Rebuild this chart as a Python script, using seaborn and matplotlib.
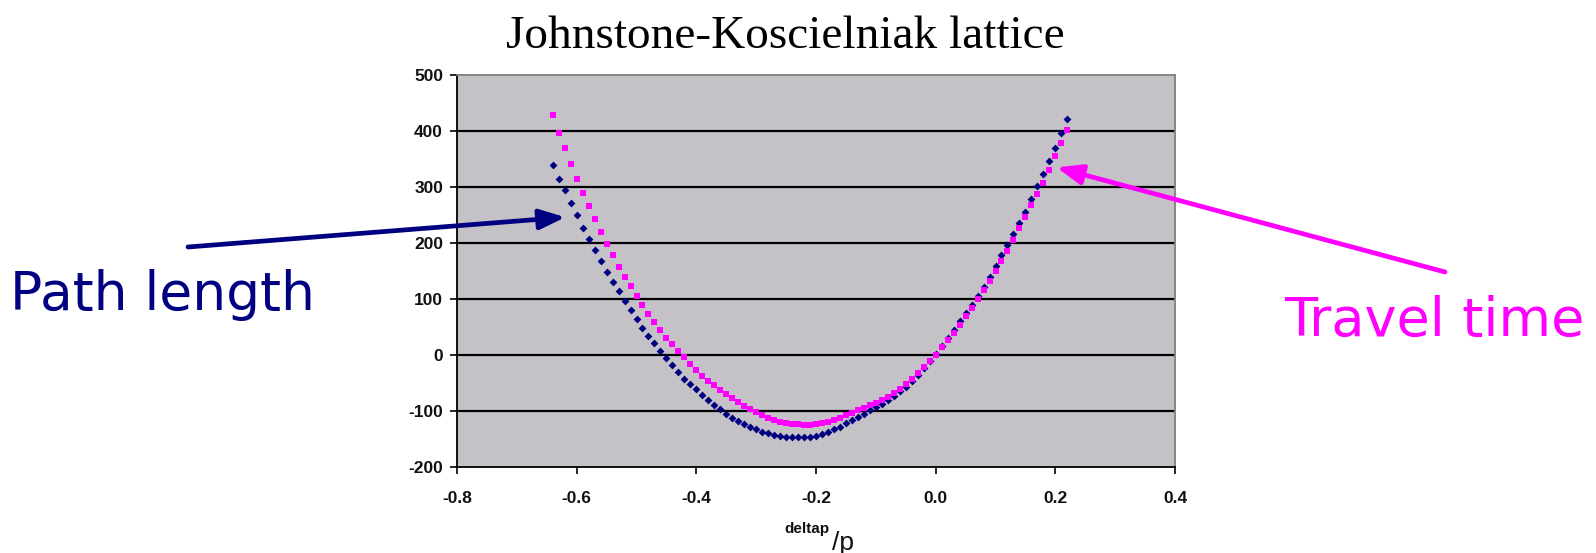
import numpy as np
import pandas as pd
import matplotlib
matplotlib.use("Agg")
import matplotlib.pyplot as plt
import seaborn as sns

# Momentum deviation grid (deltap/p) shared by both series
deltap = [round(-0.64 + 0.01 * i, 2) for i in range(87)]

# Path length deviation
path_length = [
    339, 315, 294, 271, 250, 227, 207, 187, 168, 149,
    131, 114, 96, 80, 64, 49, 34, 21, 7, -6,
    -18, -30, -42, -52, -61, -71, -80, -89, -97, -105,
    -112, -118, -124, -128, -133, -137, -140, -143, -145, -146,
    -147, -147, -147, -146, -144, -141, -137, -133, -128, -122,
    -116, -111, -105, -99, -93, -87, -80, -73, -65, -57,
    -47, -36, -23, -10, 2, 16, 30, 45, 60, 75,
    90, 105, 122, 140, 159, 178, 197, 216, 235, 256,
    278, 301, 323, 346, 370, 396, 421,
]

# Travel time deviation
travel_time = [
    428, 397, 370, 341, 315, 289, 266, 242, 219, 199,
    179, 158, 140, 123, 105, 89, 73, 59, 45, 31,
    19, 8, -4, -16, -27, -37, -46, -54, -62, -70,
    -77, -84, -91, -97, -102, -108, -112, -116, -119, -121,
    -123, -124, -125, -125, -124, -122, -119, -116, -112, -108,
    -103, -98, -94, -90, -86, -81, -75, -68, -60, -51,
    -42, -32, -22, -11, 0, 14, 27, 40, 54, 69,
    84, 100, 116, 132, 150, 168, 186, 205, 226, 246,
    267, 287, 308, 331, 355, 378, 401,
]

x_ticks = [-0.8, -0.6, -0.4, -0.2, 0.0, 0.2, 0.4]
y_ticks = [-200, -100, 0, 100, 200, 300, 400, 500]

NAVY = "#000080"
MAGENTA = "#FF00FF"

sns.set_theme(style="white")
plt.rcParams["axes.unicode_minus"] = False
plt.rcParams["font.family"] = ["DejaVu Sans"]

W, H = 1596, 553
fig = plt.figure(figsize=(W / 100, H / 100), dpi=100)
fig.patch.set_facecolor("white")
ax = fig.add_axes([457 / W, 86 / H, 718 / W, 392 / H])
ax.set_facecolor("#C4C2C6")

df = pd.DataFrame({"deltap": deltap, "path": path_length, "time": travel_time})
sns.scatterplot(data=df, x="deltap", y="path", marker="D", s=16, color=NAVY,
                linewidth=0, ax=ax, zorder=3)
sns.scatterplot(data=df, x="deltap", y="time", marker="s", s=25, color=MAGENTA,
                linewidth=0, ax=ax, zorder=4)

ax.set_xlim(-0.8, 0.4)
ax.set_ylim(-200, 500)
ax.set_xticks(x_ticks)
ax.set_yticks(y_ticks)
ax.set_xticklabels([f"{v:.1f}" for v in x_ticks])
ax.set_yticklabels([str(v) for v in y_ticks])
ax.set_xlabel("")
ax.set_ylabel("")

# horizontal gridlines only, interior values
ax.yaxis.grid(True, color="black", linewidth=1.6)
ax.xaxis.grid(False)
for line, val in zip(ax.yaxis.get_gridlines(), y_ticks):
    if val in (500, -200):
        line.set_visible(False)

for side in ("left", "bottom"):
    ax.spines[side].set_color("black")
    ax.spines[side].set_linewidth(1.3)
for side in ("top", "right"):
    ax.spines[side].set_color("#7F7F7F")
    ax.spines[side].set_linewidth(1.3)

tick_font = dict(family="Liberation Sans", weight="bold", size=12.5)
ax.tick_params(axis="both", direction="out", length=5, width=1.2, color="black",
               left=True, bottom=True)
ax.tick_params(axis="y", pad=5)
ax.tick_params(axis="x", pad=12)
for lab in ax.get_xticklabels() + ax.get_yticklabels():
    lab.set_fontproperties(matplotlib.font_manager.FontProperties(**tick_font))
    lab.set_color("#111111")

# Title
fig.text(785 / W, 1 - 48 / H, "Johnstone-Koscielniak lattice",
         family="Liberation Serif", size=34, color="black",
         ha="center", va="baseline")

# Axis label with subscript-like "/p"
fig.text(784 / W, 1 - 533 / H, "deltap", family="Liberation Sans",
         weight="bold", size=11, color="#111111", ha="left", va="baseline")
fig.text(832 / W, 1 - 550 / H, "/p", family="Liberation Sans",
         size=19, color="#111111", ha="left", va="baseline")

# Series annotations
fig.text(10 / W, 1 - 310 / H, "Path length", family="DejaVu Sans",
         size=38.5, color=NAVY, ha="left", va="baseline")
fig.text(1284 / W, 1 - 336 / H, "Travel time", family="DejaVu Sans",
         size=39, color=MAGENTA, ha="left", va="baseline")

ax.annotate("", xy=(-0.619, 246), xycoords="data",
            xytext=(188, H - 247), textcoords="figure pixels",
            arrowprops=dict(arrowstyle="-|>,head_length=1.4,head_width=0.55",
                            color=NAVY, lw=3.4, shrinkA=0, shrinkB=0,
                            mutation_scale=11),
            annotation_clip=False)
ax.annotate("", xy=(0.202, 335), xycoords="data",
            xytext=(1445, H - 272), textcoords="figure pixels",
            arrowprops=dict(arrowstyle="-|>,head_length=1.4,head_width=0.55",
                            color=MAGENTA, lw=3.4, shrinkA=0, shrinkB=0,
                            mutation_scale=11),
            annotation_clip=False)

fig.savefig("out.png", dpi=100, facecolor="white")
